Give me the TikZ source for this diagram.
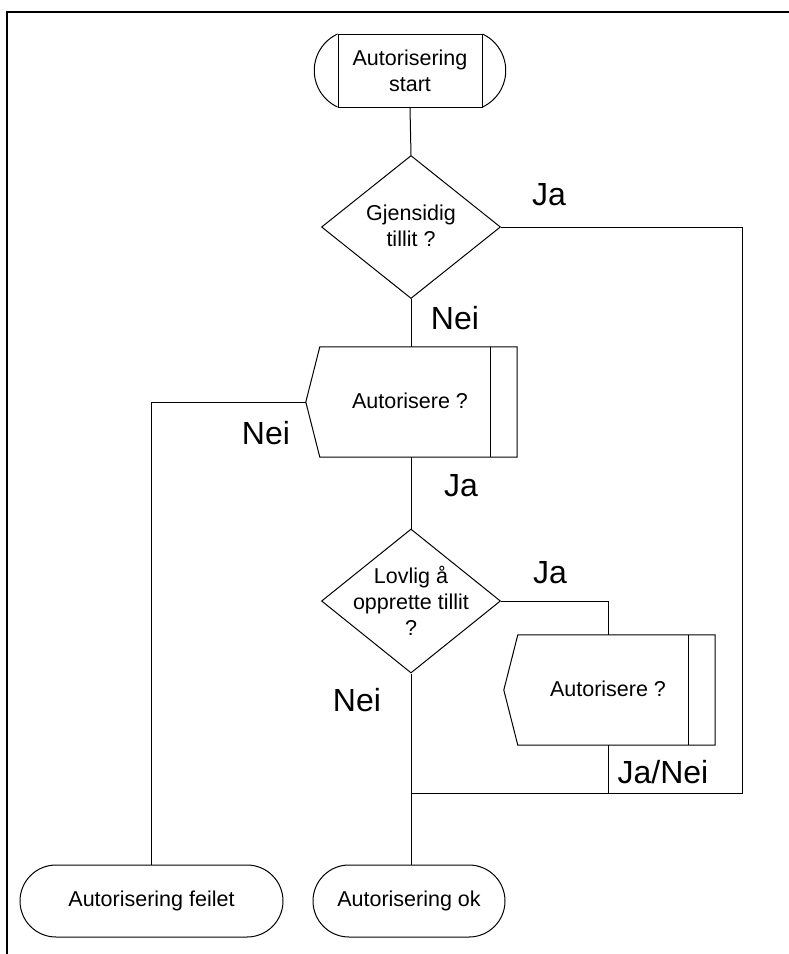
\documentclass[tikz,border=0pt]{standalone}
\usepackage{fontspec}
\setmainfont{Liberation Sans}
\usetikzlibrary{shapes.geometric,shapes.misc,calc}
\begin{document}
\begin{tikzpicture}[x=1pt,y=-1pt,
  every node/.style={font=\fontsize{21.5}{26}\selectfont, align=center, inner sep=0pt},
  link/.style={line width=1pt},
  lbl/.style={font=\fontsize{32}{36}\selectfont},
  decision/.style={draw, diamond, line width=1pt, minimum width=179pt, minimum height=143pt, inner sep=0pt},
  terminal/.style={draw, rounded rectangle, line width=1pt, minimum height=72pt},
  procbox/.style={minimum width=197pt, minimum height=110pt}
]
\useasboundingbox (0,0) rectangle (789,954);

% page frame (top and left edges only)
\draw[line width=2.6pt] (7,954) -- (7,12) -- (789,12);

% start terminal: box with curved ends
\node[draw, line width=1pt, minimum width=144pt, minimum height=73pt] (st) at (410,71) {Autorisering\\start};
\draw[link] (st.north west) arc[start angle=115, end angle=245, radius=40.28pt];
\draw[link] (st.north east) arc[start angle=65, end angle=-65, radius=40.28pt];

% decisions
\node[decision] (d1) at (411,227) {};
\node (d1t) at (411,226) {Gjensidig\\tillit ?};
\node[decision, minimum height=144pt] (d2) at (411,601) {};
\node (d2t) at (411,601) {Lovlig å\\opprette tillit\\?};

% first authorisation box
\node[procbox] (a1) at (418.5,402) {};
\coordinate (a1tip) at ($(a1.west)+(-14,0)$);
\draw[link] (a1.north west) -- (a1.north east) -- (a1.south east) -- (a1.south west) -- (a1tip) -- cycle;
\draw[link] ($(a1.north east)+(-27,0)$) -- ($(a1.south east)+(-27,0)$);
\node (a1t) at (410,401) {Autorisere ?};

% second authorisation box
\node[procbox] (a2) at (616.5,690) {};
\coordinate (a2tip) at ($(a2.west)+(-14,0)$);
\draw[link] (a2.north west) -- (a2.north east) -- (a2.south east) -- (a2.south west) -- (a2tip) -- cycle;
\draw[link] ($(a2.north east)+(-27,0)$) -- ($(a2.south east)+(-27,0)$);
\node (a2t) at (608,689) {Autorisere ?};
\coordinate (a2in) at ($(a2.north west)+(91,0)$);
\coordinate (a2out) at ($(a2.south west)+(91,0)$);

% end terminals
\node[terminal, minimum width=263pt] (fail) at (151.5,901) {Autorisering feilet};
\node[terminal, minimum width=192pt] (ok) at (409,901) {Autorisering ok};

% connectors
\coordinate (rt) at (742,227);
\coordinate (jn) at (411,793);
\draw[link] (st.south) -- (d1.north);
\draw[link] (d1.south) -- (d1.south |- a1.north);
\draw[link] (d1.south |- a1.south) -- (d2.north);
\draw[link] (d2.south) -- (d2.south |- ok.north);
\draw[link] (d1.east) -- (rt) |- (jn);
\draw[link] (a1tip) -| (fail.north);
\draw[link] (d2.east) -| (a2in);
\draw[link] (a2out) -- (a2out |- jn);

% branch labels
\node[lbl] (l1) at (549,195) {Ja};
\node[lbl] (l2) at (455,318) {Nei};
\node[lbl] (l3) at (266,433) {Nei};
\node[lbl] (l4) at (461,486) {Ja};
\node[lbl] (l5) at (550,573) {Ja};
\node[lbl] (l6) at (357,700) {Nei};
\node[lbl] (l7) at (663,772) {Ja/Nei};
\end{tikzpicture}
\end{document}
